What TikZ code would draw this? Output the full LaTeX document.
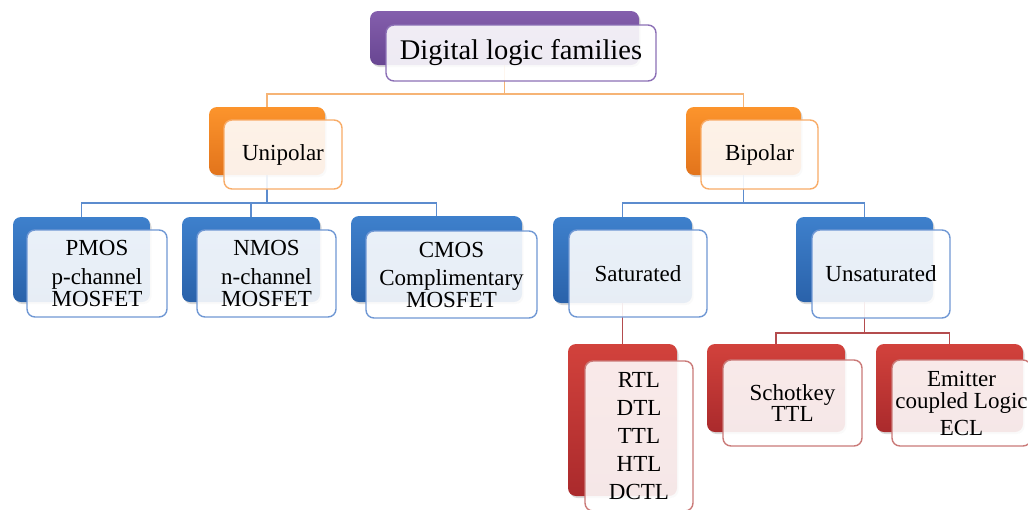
\documentclass[tikz,border=0pt]{standalone}
\usepackage{fontspec}
\setmainfont{Liberation Serif}
\usetikzlibrary{shadows,backgrounds}
\definecolor{purA}{RGB}{132,94,172}
\definecolor{purB}{RGB}{104,70,146}
\definecolor{purE}{RGB}{140,112,182}
\definecolor{oraA}{RGB}{252,148,44}
\definecolor{oraB}{RGB}{226,116,28}
\definecolor{oraE}{RGB}{248,172,104}
\definecolor{bluA}{RGB}{62,128,204}
\definecolor{bluB}{RGB}{42,98,170}
\definecolor{bluE}{RGB}{112,152,212}
\definecolor{redA}{RGB}{210,66,60}
\definecolor{redB}{RGB}{170,42,44}
\definecolor{redE}{RGB}{202,122,120}
\definecolor{lnO}{RGB}{246,180,118}
\definecolor{lnB}{RGB}{92,140,206}
\definecolor{lnR}{RGB}{180,76,78}
\tikzset{
  backbox/.style={rectangle, rounded corners=8pt, draw=none, inner sep=0pt,
    drop shadow={shadow xshift=1.5pt, shadow yshift=-2pt, opacity=0.3}},
  frontbox/.style={rectangle, rounded corners=8pt, line width=1.4pt, fill=white,
    fill opacity=0.89, text opacity=1, inner sep=0pt, align=center,
    font=\fontsize{23}{28}\selectfont},
  purback/.style={backbox, top color=purA, bottom color=purB},
  oraback/.style={backbox, top color=oraA, bottom color=oraB},
  bluback/.style={backbox, top color=bluA, bottom color=bluB},
  redback/.style={backbox, top color=redA, bottom color=redB},
  purfront/.style={frontbox, draw=purE},
  orafront/.style={frontbox, draw=oraE},
  blufront/.style={frontbox, draw=bluE},
  redfront/.style={frontbox, draw=redE},
  conO/.style={draw=lnO, line width=1.3pt},
  conB/.style={draw=lnB, line width=1.3pt},
  conR/.style={draw=lnR, line width=1.3pt},
}
\begin{document}
\begin{tikzpicture}[x=1pt,y=-1pt]
\useasboundingbox (0,0) rectangle (1028,509);
% back boxes
\node[purback, minimum width=269pt, minimum height=54pt] (rootB) at (504.5,38) {};
\node[oraback, minimum width=116pt, minimum height=68pt] (uniB) at (267,141) {};
\node[oraback, minimum width=115pt, minimum height=68pt] (biB) at (743.5,141) {};
\node[bluback, minimum width=137pt, minimum height=85pt] (pmosB) at (81.5,259.5) {};
\node[bluback, minimum width=138pt, minimum height=85pt] (nmosB) at (251,259.5) {};
\node[bluback, minimum width=171pt, minimum height=86pt] (cmosB) at (436.5,259) {};
\node[bluback, minimum width=139pt, minimum height=86pt] (satB) at (622.5,260) {};
\node[bluback, minimum width=137pt, minimum height=85pt] (unsatB) at (864.5,259.5) {};
\node[redback, minimum width=109pt, minimum height=152pt] (dctlB) at (622.5,420) {};
\node[redback, minimum width=138pt, minimum height=88pt] (schoB) at (776,388) {};
\node[redback, minimum width=147pt, minimum height=88pt] (eclB) at (949.5,388) {};
% front boxes
\node[purfront, minimum width=270pt, minimum height=56pt, font=\fontsize{28.5}{32}\selectfont] (rootF) at (521,53) {Digital logic families};
\node[orafront, minimum width=118pt, minimum height=69pt] (uniF) at (283,154.5) {Unipolar};
\node[orafront, minimum width=117pt, minimum height=69pt] (biF) at (759.5,154.5) {Bipolar};
\node[blufront, minimum width=140pt, minimum height=87pt] (pmosF) at (97,273.5) {PMOS\\[1pt] p-channel\\[-6pt] MOSFET};
\node[blufront, minimum width=139pt, minimum height=87pt] (nmosF) at (266.5,273.5) {NMOS\\[1pt] n-channel\\[-6pt] MOSFET};
\node[blufront, minimum width=171pt, minimum height=87pt] (cmosF) at (451.5,274.5) {CMOS\\[0pt] Complimentary\\[-6pt] MOSFET};
\node[blufront, minimum width=138pt, minimum height=87pt] (satF) at (638,273.5) {Saturated};
\node[blufront, minimum width=138pt, minimum height=88pt] (unsatF) at (881,274) {Unsaturated};
\node[redfront, minimum width=108pt, minimum height=150pt] (dctlF) at (639,436) {RTL\\DTL\\TTL\\HTL\\DCTL};
\node[redfront, minimum width=139pt, minimum height=86pt] (schoF) at (792.5,403) {Schotkey\\[-7pt] TTL};
\node[redfront, minimum width=139pt, minimum height=86pt] (eclF) at (961.5,403) {Emitter\\[-6pt] coupled Logic\\[-1pt] ECL};
% connectors
\begin{pgfonlayer}{background}
\coordinate (j0) at (504.5,94);
\coordinate (j1) at (267,203);
\coordinate (j2) at (743.5,203);
\coordinate (j3) at (864.5,333);
\draw[conO] (rootB.center) -- (j0) -| (uniB.north);
\draw[conO] (j0) -| (biB.north);
\draw[conB] (uniB.center) -- (j1) -| (pmosB.north);
\draw[conB] (j1) -| (nmosB.north);
\draw[conB] (j1) -| (cmosB.north);
\draw[conB] (biB.center) -- (j2) -| (satB.north);
\draw[conB] (j2) -| (unsatB.north);
\draw[conR] (satB.center) -- (dctlB.north);
\draw[conR] (unsatB.center) -- (j3) -| (schoB.north);
\draw[conR] (j3) -| (eclB.north);
\end{pgfonlayer}
\end{tikzpicture}
\end{document}
